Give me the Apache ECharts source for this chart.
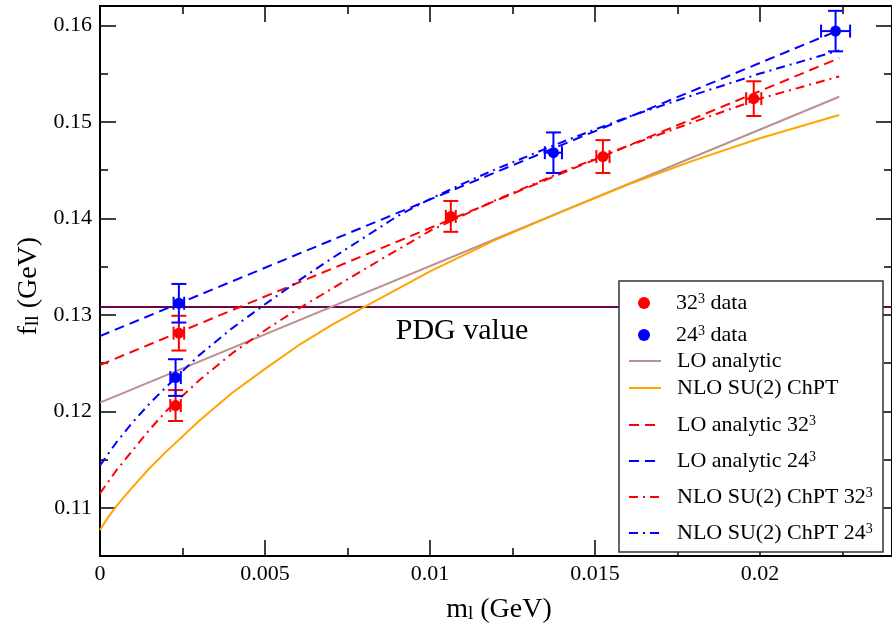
<!DOCTYPE html>
<html><head><meta charset="utf-8">
<script src="https://cdn.jsdelivr.net/npm/echarts@6/dist/echarts.min.js"></script>
<style>html,body{margin:0;padding:0;background:#fff}#c{width:892px;height:629px}</style>
</head><body><div id="c"></div>
<script>
// ---- axis ticks ----
const xTickMajor = [0, 0.005, 0.01, 0.015, 0.02];
const xTickMinor = [0.0025, 0.0075, 0.0125, 0.0175, 0.0225];
const yTickMajor = [0.11, 0.12, 0.13, 0.14, 0.15, 0.16];
const yTickMinor = [0.115, 0.125, 0.135, 0.145, 0.155];

// ---- data points ----
const red32X    = [0.00229, 0.00239, 0.01063, 0.01524, 0.01981];
const red32Y    = [0.1206, 0.1281, 0.1402, 0.1464, 0.1524];
const red32Xerr = [0.00016, 0.00016, 0.00015, 0.0002, 0.00023];
const red32Yerr = [0.0016, 0.0018, 0.0016, 0.0017, 0.0018];
const blue24X    = [0.00229, 0.00239, 0.01374, 0.02229];
const blue24Y    = [0.1235, 0.1312, 0.1468, 0.1594];
const blue24Xerr = [0.00016, 0.00016, 0.00026, 0.00044];
const blue24Yerr = [0.0019, 0.002, 0.0021, 0.0021];

// ---- fit curves ----
const loX = [0, 0.0224];
const loY = [0.1209, 0.1526];
const lo32Y = [0.1248, 0.1566];
const lo24Y = [0.1278, 0.1595];
const nloX = [0, 0.0002, 0.0005, 0.001, 0.0015, 0.002, 0.003, 0.004, 0.005, 0.006, 0.007, 0.008, 0.010, 0.012, 0.014, 0.016, 0.018, 0.020, 0.0224];
const nloY = [0.1077, 0.1088, 0.1102, 0.1122, 0.1141, 0.1158, 0.1190, 0.1219, 0.1244, 0.1268, 0.1289, 0.1308, 0.1345, 0.1378, 0.1407, 0.1435, 0.1460, 0.1483, 0.1507];
const nlo32X = [0, 0.0005, 0.001, 0.0015, 0.002, 0.003, 0.004, 0.005, 0.006, 0.008, 0.010, 0.012, 0.014, 0.016, 0.018, 0.020, 0.0224];
const nlo32Y = [0.1115, 0.1139, 0.1160, 0.1181, 0.1200, 0.1232, 0.1260, 0.1284, 0.1306, 0.1347, 0.1387, 0.1419, 0.1448, 0.1475, 0.1500, 0.1524, 0.1547];
const nlo24X = [0, 0.0005, 0.001, 0.0015, 0.002, 0.003, 0.004, 0.005, 0.006, 0.007, 0.008, 0.009, 0.010, 0.011, 0.012, 0.014, 0.016, 0.018, 0.020, 0.0224];
const nlo24Y = [0.1144, 0.1168, 0.1189, 0.1208, 0.1225, 0.1258, 0.1286, 0.1311, 0.1335, 0.1358, 0.1380, 0.1402, 0.1420, 0.1436, 0.1451, 0.1479, 0.1505, 0.1528, 0.1550, 0.1574];
const pdgX = [0, 0.024];
const pdgY = [0.1308, 0.1308];

// ---- legend rows ----
const legendNames = ['32³ data', '24³ data', 'LO analytic', 'NLO SU(2) ChPT',
  'LO analytic 32³', 'LO analytic 24³', 'NLO SU(2) ChPT 32³', 'NLO SU(2) ChPT 24³'];
const legendTextCenters = [303, 335, 361, 388, 425, 461, 497, 533];

const FONT = 'Liberation Serif';
const pairs = (xs, ys) => xs.map((x, i) => [x, ys[i]]);
const errData = (xs, ys, xe, ye) => xs.map((x, i) => [x, ys[i], xe[i], ye[i]]);

const chart = echarts.init(document.getElementById('c'), null, {renderer: 'canvas'});

function xAx(position, ticks, len, labels, extra) {
  return Object.assign({
    type: 'value', min: 0, max: 0.024, position,
    axisLine: {show: false, onZero: false}, splitLine: {show: false},
    axisTick: {show: true, inside: true, length: len, customValues: ticks, lineStyle: {color: '#000', width: 1.5}},
    axisLabel: labels ? {show: true, customValues: ticks, margin: 7, fontFamily: FONT, fontSize: 22, color: '#000',
      formatter: v => String(parseFloat(Number(v).toFixed(4)))} : {show: false}
  }, extra || {});
}
function yAx(position, ticks, len, labels, extra) {
  return Object.assign({
    type: 'value', min: 0.105, max: 0.162, position,
    axisLine: {show: false, onZero: false}, splitLine: {show: false},
    axisTick: {show: true, inside: true, length: len, customValues: ticks, lineStyle: {color: '#000', width: 1.5}},
    axisLabel: labels ? {show: true, customValues: ticks, margin: 8, fontFamily: FONT, fontSize: 22, color: '#000',
      formatter: v => String(parseFloat(Number(v).toFixed(4)))} : {show: false}
  }, extra || {});
}

const titleRich = {
  t: {fontFamily: FONT, fontSize: 28, lineHeight: 28, color: '#000', verticalAlign: 'top'},
  s: {fontFamily: FONT, fontSize: 19, lineHeight: 19, color: '#000', verticalAlign: 'bottom', padding: [15, 0, 0, 0]}
};
const xName = {name: '{t|m}{s|l}{t| (GeV)}', nameLocation: 'middle', nameGap: 30,
  nameTextStyle: {rich: titleRich, padding: [0, 0, 0, 6]}};
const yName = {name: '{t|f}{s|ll}{t| (GeV)}', nameLocation: 'middle', nameGap: 54,
  nameTextStyle: {rich: titleRich, padding: [0, 10, 0, 0]}};

function errRender(params, api) {
  const x = api.value(0), y = api.value(1), xe = api.value(2), ye = api.value(3);
  const c = api.coord([x, y]);
  const top = api.coord([x, y + ye]), bot = api.coord([x, y - ye]);
  const lft = api.coord([x - xe, y]), rgt = api.coord([x + xe, y]);
  const cap = 7.5, xcap = 6.5;
  const style = {stroke: api.visual('color'), lineWidth: 2, fill: null};
  const L = (x1, y1, x2, y2) => ({type: 'line', shape: {x1, y1, x2, y2}, style});
  return {type: 'group', children: [
    L(c[0], top[1], c[0], bot[1]),
    L(c[0] - cap, top[1], c[0] + cap, top[1]),
    L(c[0] - cap, bot[1], c[0] + cap, bot[1]),
    L(lft[0], c[1], rgt[0], c[1]),
    L(lft[0], c[1] - xcap, lft[0], c[1] + xcap),
    L(rgt[0], c[1] - xcap, rgt[0], c[1] + xcap)
  ]};
}

function lineSeries(name, xs, ys, color, type) {
  return {name, type: 'line', data: pairs(xs, ys), symbol: 'none', showSymbol: false,
    smooth: false, z: 2,
    lineStyle: {color, width: 2, type}, itemStyle: {color}, emphasis: {disabled: true}};
}

const DASH = [10, 6];
const DASHDOT = [9, 5, 2, 5];

const legRich = {
  n: {fontFamily: FONT, fontSize: 22, lineHeight: 22, color: '#000', verticalAlign: 'bottom', padding: [9, 0, 0, 0]},
  m: {fontFamily: FONT, fontSize: 22, lineHeight: 22, color: '#000'},
  p: {fontFamily: FONT, fontSize: 14, lineHeight: 14, color: '#000', verticalAlign: 'top'}
};
const legends = legendNames.map((nm, i) => {
  const hasSup = nm.indexOf('³') >= 0;
  const isData = i < 2;
  return {
    show: true, data: [nm], left: isData ? 638 : 628, top: legendTextCenters[i] - (hasSup ? 20 : 11),
    orient: 'horizontal', itemWidth: 32, itemHeight: 12, itemGap: 0, padding: 0, z: 20,
    selectedMode: false,
    itemStyle: isData ? {} : {opacity: 0},
    textStyle: {fontFamily: FONT, fontSize: 22, color: '#000', padding: [0, 0, 0, 11], rich: legRich},
    formatter: name => hasSup ? '{n|' + name.replace('³', '}{p|3}{n|') + '}' : '{m|' + name + '}'
  };
});

const option = {
  animation: false,
  backgroundColor: '#fff',
  grid: {left: 100, top: 6, width: 798, height: 559, show: true, borderColor: '#000', borderWidth: 2, backgroundColor: 'transparent'},
  xAxis: [
    xAx('bottom', xTickMajor, 16, true, xName),
    xAx('bottom', xTickMinor, 8, false),
    xAx('top', xTickMajor, 16, false),
    xAx('top', xTickMinor, 8, false)
  ],
  yAxis: [
    yAx('left', yTickMajor, 16, true, yName),
    yAx('left', yTickMinor, 8, false),
    yAx('right', yTickMajor, 16, false),
    yAx('right', yTickMinor, 8, false)
  ],
  legend: legends,
  graphic: [
    {type: 'rect', shape: {x: 619, y: 281, width: 264, height: 271}, z: 10,
      style: {fill: '#fff', stroke: '#333', lineWidth: 1.5}},
    {type: 'text', x: 462, y: 331, z: 10,
      style: {text: 'PDG value', font: '30px "Liberation Serif"', fill: '#000',
        align: 'center', verticalAlign: 'middle', textAlign: 'center', textVerticalAlign: 'middle'}}
  ],
  series: [
    {name: 'PDG', type: 'line', data: pairs(pdgX, pdgY), symbol: 'none', z: 1,
      lineStyle: {color: '#670748', width: 2}, itemStyle: {color: '#670748'}},
    lineSeries('LO analytic', loX, loY, '#BC8F8F', 'solid'),
    lineSeries('NLO SU(2) ChPT', nloX, nloY, '#FFA500', 'solid'),
    lineSeries('LO analytic 32³', loX, lo32Y, '#FF0000', DASH),
    lineSeries('LO analytic 24³', loX, lo24Y, '#0000FF', DASH),
    lineSeries('NLO SU(2) ChPT 32³', nlo32X, nlo32Y, '#FF0000', DASHDOT),
    lineSeries('NLO SU(2) ChPT 24³', nlo24X, nlo24Y, '#0000FF', DASHDOT),
    {name: 'err32', type: 'custom', renderItem: errRender, data: errData(red32X, red32Y, red32Xerr, red32Yerr),
      encode: {x: 0, y: 1}, itemStyle: {color: '#FF0000'}, z: 3, silent: true},
    {name: 'err24', type: 'custom', renderItem: errRender, data: errData(blue24X, blue24Y, blue24Xerr, blue24Yerr),
      encode: {x: 0, y: 1}, itemStyle: {color: '#0000FF'}, z: 3, silent: true},
    {name: '32³ data', type: 'scatter', data: pairs(red32X, red32Y), symbol: 'circle', symbolSize: 11,
      itemStyle: {color: '#FF0000', opacity: 1}, z: 4},
    {name: '24³ data', type: 'scatter', data: pairs(blue24X, blue24Y), symbol: 'circle', symbolSize: 11,
      itemStyle: {color: '#0000FF', opacity: 1}, z: 4}
  ]
};
chart.setOption(option);
</script></body></html>
